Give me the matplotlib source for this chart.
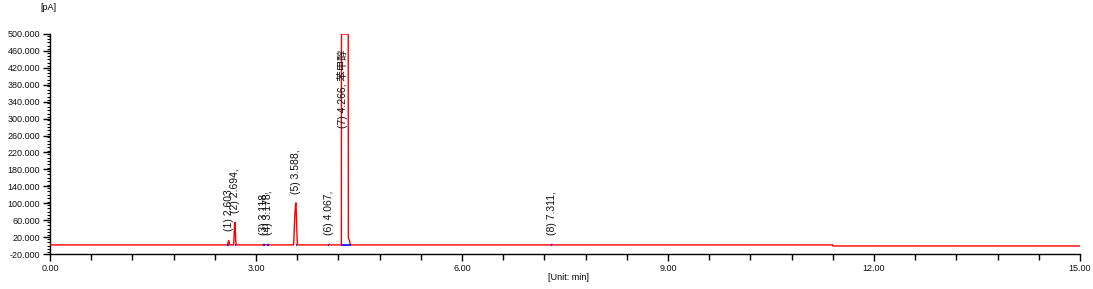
import numpy as np
import matplotlib.pyplot as plt
from matplotlib.ticker import MultipleLocator, FormatStrFormatter

# Chromatogram trace (time in min, signal in pA)
trace_t = [0.00, 2.585, 2.603, 2.620, 2.675, 2.688, 2.694, 2.705, 2.715,
           3.105, 3.118, 3.130, 3.165, 3.178, 3.190,
           3.548, 3.565, 3.575, 3.582, 3.590, 3.600, 3.607,
           4.055, 4.067, 4.080,
           4.243, 4.245, 4.343, 4.345, 4.360, 4.375,
           7.300, 7.311, 7.322,
           11.40, 11.40, 15.00]
trace_y = [1.5, 1.5, 12.0, 1.5, 1.5, 52.0, 55.0, 10.0, 1.5,
           1.5, 3.0, 1.5, 1.5, 3.0, 1.5,
           1.5, 70.0, 95.0, 101.0, 60.0, 10.0, 1.5,
           1.5, 3.0, 1.5,
           1.5, 500.0, 500.0, 18.0, 12.0, 1.5,
           1.5, 3.0, 1.5,
           1.5, -1.0, -1.0]

# Peak table
peak_rt = [2.603, 2.694, 3.118, 3.178, 3.588, 4.067, 4.266, 7.311]
peak_h = [12.0, 55.0, 3.0, 3.0, 101.0, 3.0, 278.0, 3.0]
peak_labels = ["(1) 2.603", "(2) 2.694,", "(3) 3.118,", "(4) 3.178,",
               "(5) 3.588,", "(6) 4.067,", "(7) 4.266, 苯甲醇", "(8) 7.311,"]
label_offset = [9, 9, 9, 9, 9, 9, 0, 9]

# Baseline marks (start, end) in min
base_start = [2.580, 2.690, 3.100, 3.165, 3.580, 4.045, 4.245, 7.298]
base_end = [2.600, 2.712, 3.125, 3.185, 3.600, 4.062, 4.390, 7.312]
base_level = 1.5

fig = plt.figure(figsize=(10.93, 2.89), dpi=100)
ax = fig.add_axes([50/1093, 1-254/289, 1030/1093, 220/289])

ax.plot(trace_t, trace_y, color='#ff0000', lw=1.0, zorder=3)
for s, e in zip(base_start, base_end):
    ax.plot([s, e], [base_level, base_level], color='#0000ff', lw=1.2,
            solid_capstyle='butt', zorder=4)

for rt, h, lab, off in zip(peak_rt, peak_h, peak_labels, label_offset):
    ax.annotate(lab, (rt, h), xytext=(0, off), textcoords='offset pixels',
                rotation=90, ha='center', va='bottom', fontsize=7.5,
                family=['Liberation Sans', 'Noto Sans CJK SC'], color='#111111',
                zorder=5)

ax.set_xlim(0, 15)
ax.set_ylim(-20, 500)
ax.xaxis.set_major_locator(MultipleLocator(3))
ax.xaxis.set_minor_locator(MultipleLocator(0.6))
ax.yaxis.set_minor_locator(MultipleLocator(8))
ax.set_yticks(np.arange(-20, 501, 40))
ax.xaxis.set_major_formatter(FormatStrFormatter('%.2f'))
ax.yaxis.set_major_formatter(FormatStrFormatter('%.3f'))

for side in ['top', 'right']:
    ax.spines[side].set_visible(False)
for side in ['left', 'bottom']:
    ax.spines[side].set_linewidth(1.0)

ax.tick_params(axis='both', which='major', direction='out', length=5, width=1,
               labelsize=6.5, pad=2, labelcolor='#111111')
ax.tick_params(axis='x', which='minor', direction='out', length=4, width=1)
ax.tick_params(axis='y', which='minor', direction='out', length=2.5, width=0.8)
for t in ax.get_xticklabels() + ax.get_yticklabels():
    t.set_family('Liberation Sans')

fig.text(48/1093, 1-8/289, '[pA]', ha='center', va='center', fontsize=6.5,
         family='Liberation Sans')
fig.text(568/1093, 1-277/289, '[Unit: min]', ha='center', va='center', fontsize=6.5,
         family='Liberation Sans')

fig.savefig('out.png', dpi=100)
